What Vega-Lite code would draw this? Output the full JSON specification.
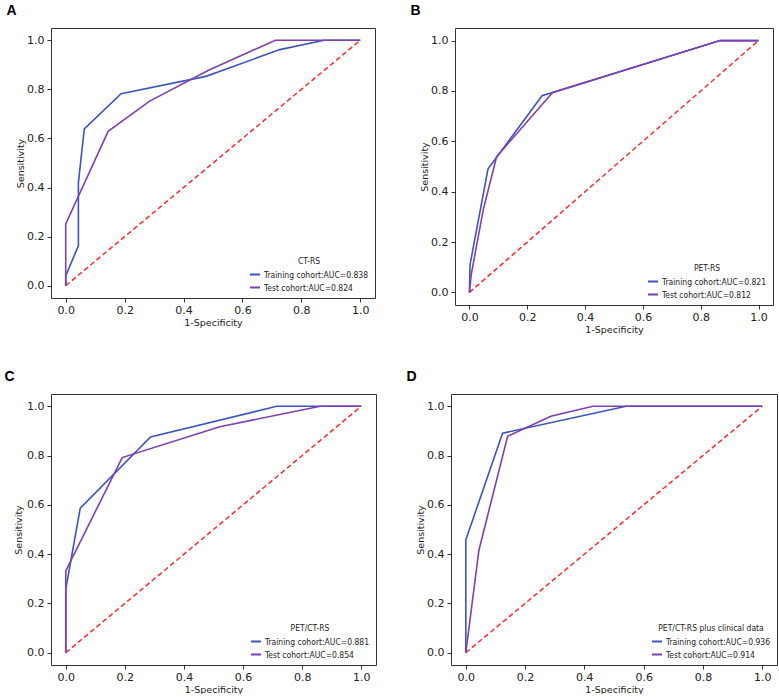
{
  "$schema": "https://vega.github.io/schema/vega-lite/v6.json",
  "background": "white",
  "padding": {"left": 4, "top": 3, "right": 0, "bottom": 0},
  "datasets": {
    "diag": [{"x": 0, "y": 0}, {"x": 1, "y": 1}],
    "roc": [
      {"p": "A", "s": "Training cohort:AUC=0.838", "i": 0, "x": 0, "y": 0},
      {"p": "A", "s": "Training cohort:AUC=0.838", "i": 1, "x": 0, "y": 0.04},
      {"p": "A", "s": "Training cohort:AUC=0.838", "i": 2, "x": 0.043, "y": 0.163},
      {"p": "A", "s": "Training cohort:AUC=0.838", "i": 3, "x": 0.043, "y": 0.42},
      {"p": "A", "s": "Training cohort:AUC=0.838", "i": 4, "x": 0.063, "y": 0.639},
      {"p": "A", "s": "Training cohort:AUC=0.838", "i": 5, "x": 0.188, "y": 0.782},
      {"p": "A", "s": "Training cohort:AUC=0.838", "i": 6, "x": 0.476, "y": 0.853},
      {"p": "A", "s": "Training cohort:AUC=0.838", "i": 7, "x": 0.727, "y": 0.962},
      {"p": "A", "s": "Training cohort:AUC=0.838", "i": 8, "x": 0.877, "y": 1},
      {"p": "A", "s": "Training cohort:AUC=0.838", "i": 9, "x": 1, "y": 1},
      {"p": "A", "s": "Test cohort:AUC=0.824", "i": 0, "x": 0, "y": 0},
      {"p": "A", "s": "Test cohort:AUC=0.824", "i": 1, "x": 0, "y": 0.252},
      {"p": "A", "s": "Test cohort:AUC=0.824", "i": 2, "x": 0.144, "y": 0.629},
      {"p": "A", "s": "Test cohort:AUC=0.824", "i": 3, "x": 0.285, "y": 0.752},
      {"p": "A", "s": "Test cohort:AUC=0.824", "i": 4, "x": 0.485, "y": 0.878},
      {"p": "A", "s": "Test cohort:AUC=0.824", "i": 5, "x": 0.712, "y": 1},
      {"p": "A", "s": "Test cohort:AUC=0.824", "i": 6, "x": 1, "y": 1},
      {"p": "B", "s": "Training cohort:AUC=0.821", "i": 0, "x": 0, "y": 0},
      {"p": "B", "s": "Training cohort:AUC=0.821", "i": 1, "x": 0.002, "y": 0.11},
      {"p": "B", "s": "Training cohort:AUC=0.821", "i": 2, "x": 0.064, "y": 0.49},
      {"p": "B", "s": "Training cohort:AUC=0.821", "i": 3, "x": 0.251, "y": 0.781},
      {"p": "B", "s": "Training cohort:AUC=0.821", "i": 4, "x": 0.867, "y": 1},
      {"p": "B", "s": "Training cohort:AUC=0.821", "i": 5, "x": 1, "y": 1},
      {"p": "B", "s": "Test cohort:AUC=0.812", "i": 0, "x": 0, "y": 0},
      {"p": "B", "s": "Test cohort:AUC=0.812", "i": 1, "x": 0.006, "y": 0.07},
      {"p": "B", "s": "Test cohort:AUC=0.812", "i": 2, "x": 0.048, "y": 0.33},
      {"p": "B", "s": "Test cohort:AUC=0.812", "i": 3, "x": 0.094, "y": 0.539},
      {"p": "B", "s": "Test cohort:AUC=0.812", "i": 4, "x": 0.287, "y": 0.793},
      {"p": "B", "s": "Test cohort:AUC=0.812", "i": 5, "x": 0.867, "y": 1},
      {"p": "B", "s": "Test cohort:AUC=0.812", "i": 6, "x": 1, "y": 1},
      {"p": "C", "s": "Training cohort:AUC=0.881", "i": 0, "x": 0, "y": 0},
      {"p": "C", "s": "Training cohort:AUC=0.881", "i": 1, "x": 0, "y": 0.258},
      {"p": "C", "s": "Training cohort:AUC=0.881", "i": 2, "x": 0.049, "y": 0.587},
      {"p": "C", "s": "Training cohort:AUC=0.881", "i": 3, "x": 0.287, "y": 0.876},
      {"p": "C", "s": "Training cohort:AUC=0.881", "i": 4, "x": 0.714, "y": 1},
      {"p": "C", "s": "Training cohort:AUC=0.881", "i": 5, "x": 1, "y": 1},
      {"p": "C", "s": "Test cohort:AUC=0.854", "i": 0, "x": 0, "y": 0},
      {"p": "C", "s": "Test cohort:AUC=0.854", "i": 1, "x": 0, "y": 0.332},
      {"p": "C", "s": "Test cohort:AUC=0.854", "i": 2, "x": 0.191, "y": 0.792},
      {"p": "C", "s": "Test cohort:AUC=0.854", "i": 3, "x": 0.521, "y": 0.917},
      {"p": "C", "s": "Test cohort:AUC=0.854", "i": 4, "x": 0.861, "y": 1},
      {"p": "C", "s": "Test cohort:AUC=0.854", "i": 5, "x": 1, "y": 1},
      {"p": "D", "s": "Training cohort:AUC=0.936", "i": 0, "x": 0, "y": 0},
      {"p": "D", "s": "Training cohort:AUC=0.936", "i": 1, "x": 0, "y": 0.458},
      {"p": "D", "s": "Training cohort:AUC=0.936", "i": 2, "x": 0.124, "y": 0.891},
      {"p": "D", "s": "Training cohort:AUC=0.936", "i": 3, "x": 0.541, "y": 1},
      {"p": "D", "s": "Training cohort:AUC=0.936", "i": 4, "x": 1, "y": 1},
      {"p": "D", "s": "Test cohort:AUC=0.914", "i": 0, "x": 0, "y": 0},
      {"p": "D", "s": "Test cohort:AUC=0.914", "i": 1, "x": 0.044, "y": 0.415},
      {"p": "D", "s": "Test cohort:AUC=0.914", "i": 2, "x": 0.141, "y": 0.878},
      {"p": "D", "s": "Test cohort:AUC=0.914", "i": 3, "x": 0.287, "y": 0.96},
      {"p": "D", "s": "Test cohort:AUC=0.914", "i": 4, "x": 0.429, "y": 1},
      {"p": "D", "s": "Test cohort:AUC=0.914", "i": 5, "x": 1, "y": 1}
    ]
  },
  "config": {
    "view": {"stroke": "#333333", "strokeWidth": 1},
    "axis": {"grid": false, "domain": false, "tickColor": "#333333", "tickSize": 4, "labelFont": "DejaVu Sans", "labelFontSize": 11, "labelColor": "#222222", "titleFont": "DejaVu Sans", "titleFontSize": 9.5, "titleFontWeight": "normal", "titleColor": "#222222"},
    "axisX": {"labelPadding": 2, "titlePadding": 2},
    "axisY": {"labelPadding": 3, "titlePadding": 1},
    "legend": {"orient": "bottom-right", "offset": 6, "padding": 0, "labelFont": "Liberation Sans Narrow, DejaVu Sans Condensed, sans-serif", "labelFontSize": 8.5, "labelColor": "#222222", "labelOffset": 3, "titleFont": "Liberation Sans Narrow, DejaVu Sans Condensed, sans-serif", "titleFontSize": 8.5, "titleFontWeight": "normal", "titleColor": "#222222", "titleAnchor": "middle", "titlePadding": 3, "symbolType": "stroke", "symbolStrokeWidth": 2, "symbolSize": 100, "rowPadding": 2},
    "title": {"anchor": "start", "fontSize": 14, "font": "Liberation Sans", "fontWeight": "bold", "color": "#000000", "dx": -9, "offset": 10}
  },
  "spacing": 35,
  "resolve": {"scale": {"color": "independent"}, "legend": {"color": "independent"}},
  "vconcat": [
    {
      "spacing": 34,
      "resolve": {"scale": {"color": "independent"}, "legend": {"color": "independent"}},
      "hconcat": [
        {
          "width": 324, "height": 270,
          "title": "A",
          "layer": [
            {"data": {"name": "diag"}, "mark": {"type": "line", "color": "#ff2a2a", "strokeDash": [5, 3], "strokeWidth": 1.5},
             "encoding": {"x": {"field": "x", "type": "quantitative", "scale": {"domain": [-0.05, 1.05], "nice": false, "zero": false}, "axis": {"title": "1-Specificity", "values": [0, 0.2, 0.4, 0.6, 0.8, 1], "format": ".1f"}},
                          "y": {"field": "y", "type": "quantitative", "scale": {"domain": [-0.05, 1.05], "nice": false, "zero": false}, "axis": {"title": "Sensitivity", "values": [0, 0.2, 0.4, 0.6, 0.8, 1], "format": ".1f"}}}},
            {"data": {"name": "roc"}, "transform": [{"filter": "datum.p == 'A'"}], "mark": {"type": "line", "strokeWidth": 1.6},
             "encoding": {"x": {"field": "x", "type": "quantitative"}, "y": {"field": "y", "type": "quantitative"}, "order": {"field": "i", "type": "quantitative"},
                          "color": {"field": "s", "type": "nominal", "scale": {"domain": ["Training cohort:AUC=0.838", "Test cohort:AUC=0.824"], "range": ["#3b55c0", "#7f3fb0"]}, "legend": {"title": "CT-RS"}}}}
          ]
        },
        {
          "width": 318, "height": 277,
          "title": "B",
          "layer": [
            {"data": {"name": "diag"}, "mark": {"type": "line", "color": "#ff2a2a", "strokeDash": [5, 3], "strokeWidth": 1.5},
             "encoding": {"x": {"field": "x", "type": "quantitative", "scale": {"domain": [-0.05, 1.05], "nice": false, "zero": false}, "axis": {"title": "1-Specificity", "values": [0, 0.2, 0.4, 0.6, 0.8, 1], "format": ".1f"}},
                          "y": {"field": "y", "type": "quantitative", "scale": {"domain": [-0.05, 1.05], "nice": false, "zero": false}, "axis": {"title": "Sensitivity", "values": [0, 0.2, 0.4, 0.6, 0.8, 1], "format": ".1f"}}}},
            {"data": {"name": "roc"}, "transform": [{"filter": "datum.p == 'B'"}], "mark": {"type": "line", "strokeWidth": 1.6},
             "encoding": {"x": {"field": "x", "type": "quantitative"}, "y": {"field": "y", "type": "quantitative"}, "order": {"field": "i", "type": "quantitative"},
                          "color": {"field": "s", "type": "nominal", "scale": {"domain": ["Training cohort:AUC=0.821", "Test cohort:AUC=0.812"], "range": ["#3b55c0", "#7f3fb0"]}, "legend": {"title": "PET-RS"}}}}
          ]
        }
      ]
    },
    {
      "spacing": 29,
      "resolve": {"scale": {"color": "independent"}, "legend": {"color": "independent"}},
      "hconcat": [
        {
          "width": 325, "height": 271,
          "title": "C",
          "layer": [
            {"data": {"name": "diag"}, "mark": {"type": "line", "color": "#ff2a2a", "strokeDash": [5, 3], "strokeWidth": 1.5},
             "encoding": {"x": {"field": "x", "type": "quantitative", "scale": {"domain": [-0.05, 1.05], "nice": false, "zero": false}, "axis": {"title": "1-Specificity", "values": [0, 0.2, 0.4, 0.6, 0.8, 1], "format": ".1f"}},
                          "y": {"field": "y", "type": "quantitative", "scale": {"domain": [-0.05, 1.05], "nice": false, "zero": false}, "axis": {"title": "Sensitivity", "titlePadding": 3, "values": [0, 0.2, 0.4, 0.6, 0.8, 1], "format": ".1f"}}}},
            {"data": {"name": "roc"}, "transform": [{"filter": "datum.p == 'C'"}], "mark": {"type": "line", "strokeWidth": 1.6},
             "encoding": {"x": {"field": "x", "type": "quantitative"}, "y": {"field": "y", "type": "quantitative"}, "order": {"field": "i", "type": "quantitative"},
                          "color": {"field": "s", "type": "nominal", "scale": {"domain": ["Training cohort:AUC=0.881", "Test cohort:AUC=0.854"], "range": ["#3b55c0", "#7f3fb0"]}, "legend": {"title": "PET/CT-RS"}}}}
          ]
        },
        {
          "width": 326, "height": 271,
          "title": "D",
          "layer": [
            {"data": {"name": "diag"}, "mark": {"type": "line", "color": "#ff2a2a", "strokeDash": [5, 3], "strokeWidth": 1.5},
             "encoding": {"x": {"field": "x", "type": "quantitative", "scale": {"domain": [-0.05, 1.05], "nice": false, "zero": false}, "axis": {"title": "1-Specificity", "values": [0, 0.2, 0.4, 0.6, 0.8, 1], "format": ".1f"}},
                          "y": {"field": "y", "type": "quantitative", "scale": {"domain": [-0.05, 1.05], "nice": false, "zero": false}, "axis": {"title": "Sensitivity", "values": [0, 0.2, 0.4, 0.6, 0.8, 1], "format": ".1f"}}}},
            {"data": {"name": "roc"}, "transform": [{"filter": "datum.p == 'D'"}], "mark": {"type": "line", "strokeWidth": 1.6},
             "encoding": {"x": {"field": "x", "type": "quantitative"}, "y": {"field": "y", "type": "quantitative"}, "order": {"field": "i", "type": "quantitative"},
                          "color": {"field": "s", "type": "nominal", "scale": {"domain": ["Training cohort:AUC=0.936", "Test cohort:AUC=0.914"], "range": ["#3b55c0", "#7f3fb0"]}, "legend": {"title": "PET/CT-RS plus clinical data"}}}}
          ]
        }
      ]
    }
  ]
}
